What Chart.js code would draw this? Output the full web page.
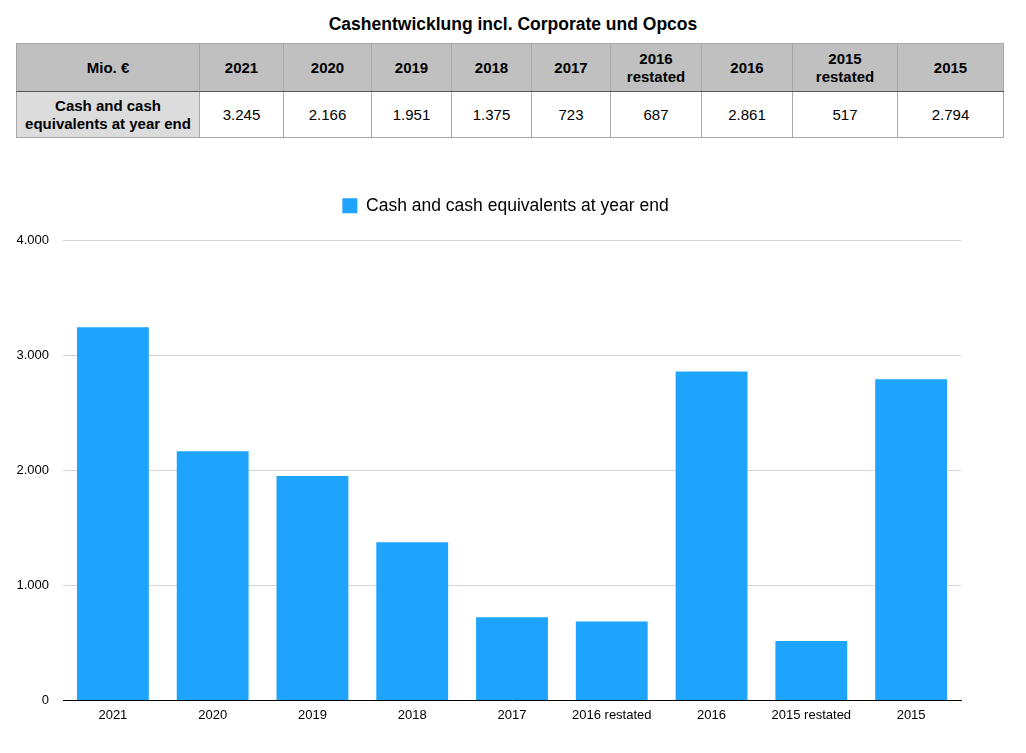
<!DOCTYPE html>
<html>
<head>
<meta charset="utf-8">
<script src="https://cdn.jsdelivr.net/npm/chart.js@4/dist/chart.umd.min.js"></script>
<style>
    body { margin: 0; background: #fff; font-family: "Liberation Sans", Arial, sans-serif; }
    .title { position: absolute; left: 0; top: 14px; width: 1026px; text-align: center; font-weight: bold; font-size: 17.5px; color: #000; }
    table { position: absolute; left: 16px; top: 43px; border-collapse: collapse; table-layout: fixed; font-size: 15px; color: #000; }
    td, th { border: 1px solid #a8a8a8; text-align: center; padding: 0; line-height: 18px; }
    th { background: #c0c0c0; height: 47px; font-weight: bold; border-bottom: 1px solid #555; }
    td { height: 45px; background: #fff; }
    td.rowhead { background: #dcdcdc; font-weight: bold; }
    .wrap { position: absolute; left: 0; top: 185px; width: 1026px; height: 560px; }
</style>
</head>
<body>
<div class="title">Cashentwicklung incl. Corporate und Opcos</div>
<table id="tbl"></table>
<div class="wrap"><canvas id="cash"></canvas></div>
<script>
const categories = ['2021', '2020', '2019', '2018', '2017', '2016 restated', '2016', '2015 restated', '2015']
const headLabels = ['2021', '2020', '2019', '2018', '2017', '2016<br>restated', '2016', '2015<br>restated', '2015']
const cashValues = [3245, 2166, 1951, 1375, 723, 687, 2861, 517, 2794]
const colWidths = [183, 84, 88, 80, 80, 79, 91, 91, 105, 106]
const seriesName = 'Cash and cash equivalents at year end'

const fmt = v => v.toLocaleString('de-DE')

// table above the chart
const tbl = document.getElementById('tbl')
let html = '<colgroup>' + colWidths.map(w => '<col style="width:' + w + 'px">').join('') + '</colgroup>'
html += '<tr><th>Mio. €</th>' + headLabels.map(h => '<th>' + h + '</th>').join('') + '</tr>'
html += '<tr><td class="rowhead">Cash and cash<br>equivalents at year end</td>' + cashValues.map(v => '<td>' + fmt(v) + '</td>').join('') + '</tr>'
tbl.innerHTML = html

Chart.defaults.font.family = '"Liberation Sans", Arial, sans-serif'
Chart.defaults.color = '#000'

// extra room under the legend, and center it on the whole canvas
const legendTweak = {
    id: 'legendTweak',
    afterInit(chart) {
        const lg = chart.legend
        const fit = lg.fit
        lg.fit = function () {
            fit.bind(lg)()
            this.height += 16
        }
        const draw = lg.draw
        lg.draw = function () {
            const ctx = chart.ctx
            ctx.save()
            ctx.translate(25, 0)
            draw.bind(lg)()
            ctx.restore()
        }
    }
}

new Chart(document.getElementById('cash'), {
    type: 'bar',
    data: {
        labels: categories,
        datasets: [{
            label: seriesName,
            data: cashValues,
            backgroundColor: '#1ea4fc',
            borderWidth: 0,
            barPercentage: 0.72,
            categoryPercentage: 1
        }]
    },
    options: {
        responsive: true,
        maintainAspectRatio: false,
        animation: false,
        layout: { padding: { left: 0, right: 65, top: 0, bottom: 15 } },
        plugins: {
            legend: {
                position: 'top',
                labels: { font: { size: 17.5 }, boxWidth: 15, boxHeight: 15, padding: 12 }
            },
            tooltip: { enabled: false }
        },
        scales: {
            x: {
                grid: { display: false, drawTicks: false },
                border: { display: true, color: '#000', width: 1 },
                ticks: { font: { size: 13 }, padding: 7, maxRotation: 0 }
            },
            y: {
                min: 0,
                max: 4000,
                afterFit: scale => { scale.width = 63 },
                grid: { color: '#d6d6d6', drawTicks: false },
                border: { display: false },
                ticks: { stepSize: 1000, font: { size: 13 }, padding: 14, callback: v => fmt(v) }
            }
        }
    },
    plugins: [legendTweak]
})
</script>
</body>
</html>
